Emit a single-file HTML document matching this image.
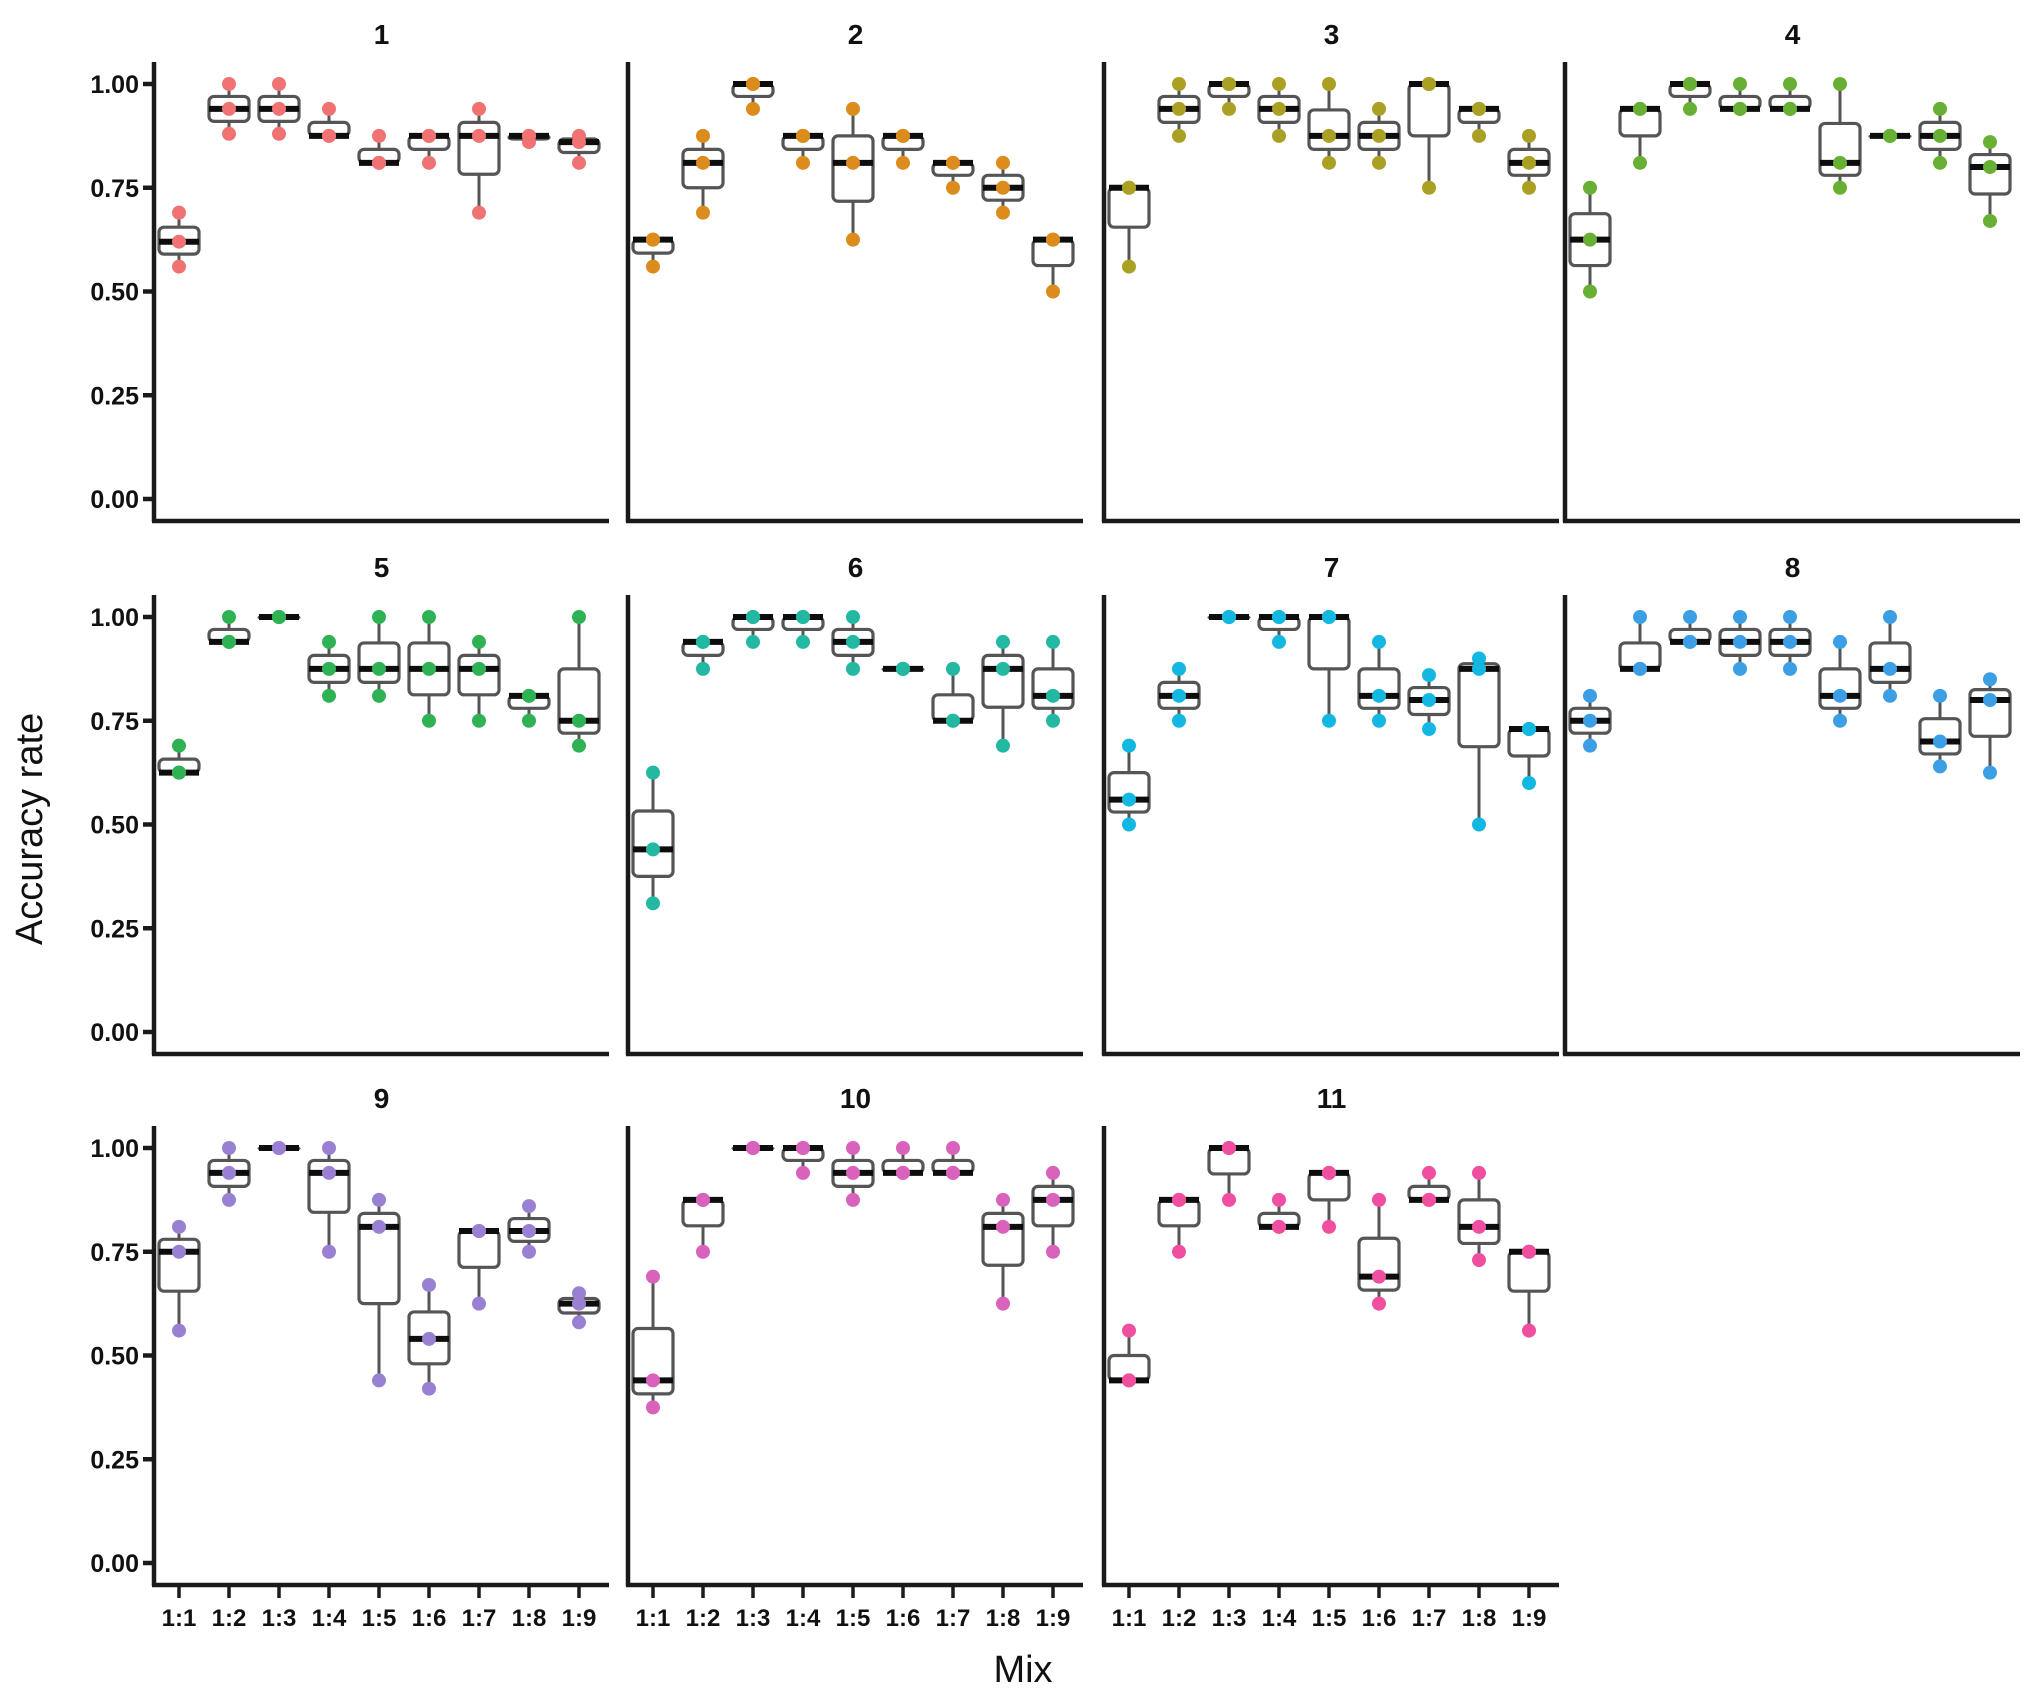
<!DOCTYPE html>
<html><head><meta charset="utf-8"><style>
html,body{margin:0;padding:0;background:#fff;width:2031px;height:1694px;overflow:hidden}
svg{display:block}
text{font-family:"Liberation Sans",sans-serif}
</style></head><body>
<svg id="chart" width="2031" height="1694" viewBox="0 0 2031 1694" xmlns="http://www.w3.org/2000/svg"></svg>
<script>
const categories = ["1:1","1:2","1:3","1:4","1:5","1:6","1:7","1:8","1:9"];
const panelLabels = ["1","2","3","4","5","6","7","8","9","10","11"];
const panelColors = ["#f07272","#db8c1c","#aaa024","#68b034","#2eb254","#22b8a2","#12b8e2","#3c9fe6","#9a80d2","#d862bc","#f04fa0"];
const yTicks = [0, 0.25, 0.5, 0.75, 1];
const yTickLabels = ["0.00","0.25","0.50","0.75","1.00"];
const p1 = [[.56,.62,.69],[.88,.94,1],[.88,.94,1],[.875,.875,.94],[.81,.81,.875],[.81,.875,.875],[.69,.875,.94],[.86,.875,.875],[.81,.86,.875]];
const p2 = [[.56,.625,.625],[.69,.81,.875],[.94,1,1],[.81,.875,.875],[.625,.81,.94],[.81,.875,.875],[.75,.81,.81],[.69,.75,.81],[.5,.625,.625]];
const p3 = [[.56,.75,.75],[.875,.94,1],[.94,1,1],[.875,.94,1],[.81,.875,1],[.81,.875,.94],[.75,1,1],[.875,.94,.94],[.75,.81,.875]];
const p4 = [[.5,.625,.75],[.81,.94,.94],[.94,1,1],[.94,.94,1],[.94,.94,1],[.75,.81,1],[.875,.875,.875],[.81,.875,.94],[.67,.8,.86]];
const p5 = [[.625,.625,.69],[.94,.94,1],[1,1,1],[.81,.875,.94],[.81,.875,1],[.75,.875,1],[.75,.875,.94],[.75,.81,.81],[.69,.75,1]];
const p6 = [[.31,.44,.625],[.875,.94,.94],[.94,1,1],[.94,1,1],[.875,.94,1],[.875,.875,.875],[.75,.75,.875],[.69,.875,.94],[.75,.81,.94]];
const p7 = [[.5,.56,.69],[.75,.81,.875],[1,1,1],[.94,1,1],[.75,1,1],[.75,.81,.94],[.73,.8,.86],[.5,.875,.9],[.6,.73,.73]];
const p8 = [[.69,.75,.81],[.875,.875,1],[.94,.94,1],[.875,.94,1],[.875,.94,1],[.75,.81,.94],[.81,.875,1],[.64,.7,.81],[.625,.8,.85]];
const p9 = [[.56,.75,.81],[.875,.94,1],[1,1,1],[.75,.94,1],[.44,.81,.875],[.42,.54,.67],[.625,.8,.8],[.75,.8,.86],[.58,.625,.65]];
const p10 = [[.375,.44,.69],[.75,.875,.875],[1,1,1],[.94,1,1],[.875,.94,1],[.94,.94,1],[.94,.94,1],[.625,.81,.875],[.75,.875,.94]];
const p11 = [[.44,.44,.56],[.75,.875,.875],[.875,1,1],[.81,.81,.875],[.81,.94,.94],[.625,.69,.875],[.875,.875,.94],[.73,.81,.94],[.56,.75,.75]];
const panelData = [p1,p2,p3,p4,p5,p6,p7,p8,p9,p10,p11];

const NS="http://www.w3.org/2000/svg";
const svg=document.getElementById('chart');
function mk(tag,attrs,parent){const e=document.createElementNS(NS,tag);for(const k in attrs)e.setAttribute(k,attrs[k]);(parent||svg).appendChild(e);return e;}
const colX=[154,628,1104,1565], rowTop=[84,617,1148], PW=455, YS=415;
function quant(arr,p){const a=[...arr].sort((x,y)=>x-y);const h=(a.length-1)*p;const lo=Math.floor(h);const hi=Math.ceil(h);return a[lo]+(a[hi]-a[lo])*(h-lo);}

panelData.forEach((pts,pi)=>{
  const col=pi%4,row=Math.floor(pi/4);
  const x0=colX[col], y1=rowTop[row];
  const yS=v=>y1+(1-v)*YS;
  const xS=i=>x0+25+i*50;
  const g=mk('g',{});
  
  
  const t=mk('text',{x:x0+PW/2,y:y1-40,'text-anchor':'middle','font-size':28,'font-weight':'bold',fill:'#111'},g);
  t.textContent=panelLabels[pi];
  
  
  const ya=mk('line',{x1:x0,y1:y1-22,x2:x0,y2:y1+438,stroke:'#1a1a1a','stroke-width':4.5},g);
  
  
  const xa=mk('line',{x1:x0-2,y1:y1+437,x2:x0+PW,y2:y1+437,stroke:'#1a1a1a','stroke-width':4.5},g);
  
  
  if(col===0){
    yTicks.forEach((v,i)=>{
      const tk=mk('line',{x1:x0-11,y1:yS(v),x2:x0,y2:yS(v),stroke:'#1a1a1a','stroke-width':4.5},g);
      
      
      const tl=mk('text',{x:x0-15,y:yS(v)+9,'text-anchor':'end','font-size':25,'font-weight':'bold',fill:'#111'},g);
      tl.textContent=yTickLabels[i];
      
      
    });
  }
  if(row===2){
    categories.forEach((c,i)=>{
      const tk=mk('line',{x1:xS(i),y1:y1+437,x2:xS(i),y2:y1+450,stroke:'#1a1a1a','stroke-width':3.5},g);
      
      
      const tl=mk('text',{x:xS(i),y:y1+478,'text-anchor':'middle','font-size':24,'font-weight':'bold',fill:'#111'},g);
      tl.textContent=c;
      
      
    });
  }
  pts.forEach((arr,i)=>{
    const mn=Math.min(...arr),mx=Math.max(...arr),q1=quant(arr,.25),md=quant(arr,.5),q3=quant(arr,.75);
    const cx=xS(i),bw=40;
    const bg=mk('g',{},g);
    
    
    mk('line',{x1:cx,y1:yS(mx),x2:cx,y2:yS(q3),stroke:'#555','stroke-width':3},bg);
    mk('line',{x1:cx,y1:yS(q1),x2:cx,y2:yS(mn),stroke:'#555','stroke-width':3},bg);
    mk('rect',{x:cx-bw/2,y:yS(q3),width:bw,height:Math.max(yS(q1)-yS(q3),1),rx:5,fill:'#fff',stroke:'#555','stroke-width':3.2},bg);
    mk('line',{x1:cx-bw/2,y1:yS(md),x2:cx+bw/2,y2:yS(md),stroke:'#0d0d0d','stroke-width':6},bg);
    arr.forEach(v=>{
      const p=mk('circle',{cx:cx,cy:yS(v),r:7,fill:panelColors[pi]},bg);
      
      
    });
  });
});
const xt=mk('text',{x:1023,y:1682,'text-anchor':'middle','font-size':38,fill:'#111'});
xt.textContent='Mix';


const yt=mk('text',{x:0,y:0,'text-anchor':'middle','font-size':38,fill:'#111',transform:'translate(42,829) rotate(-90)'});
yt.textContent='Accuracy rate';


</script>
</body></html>
